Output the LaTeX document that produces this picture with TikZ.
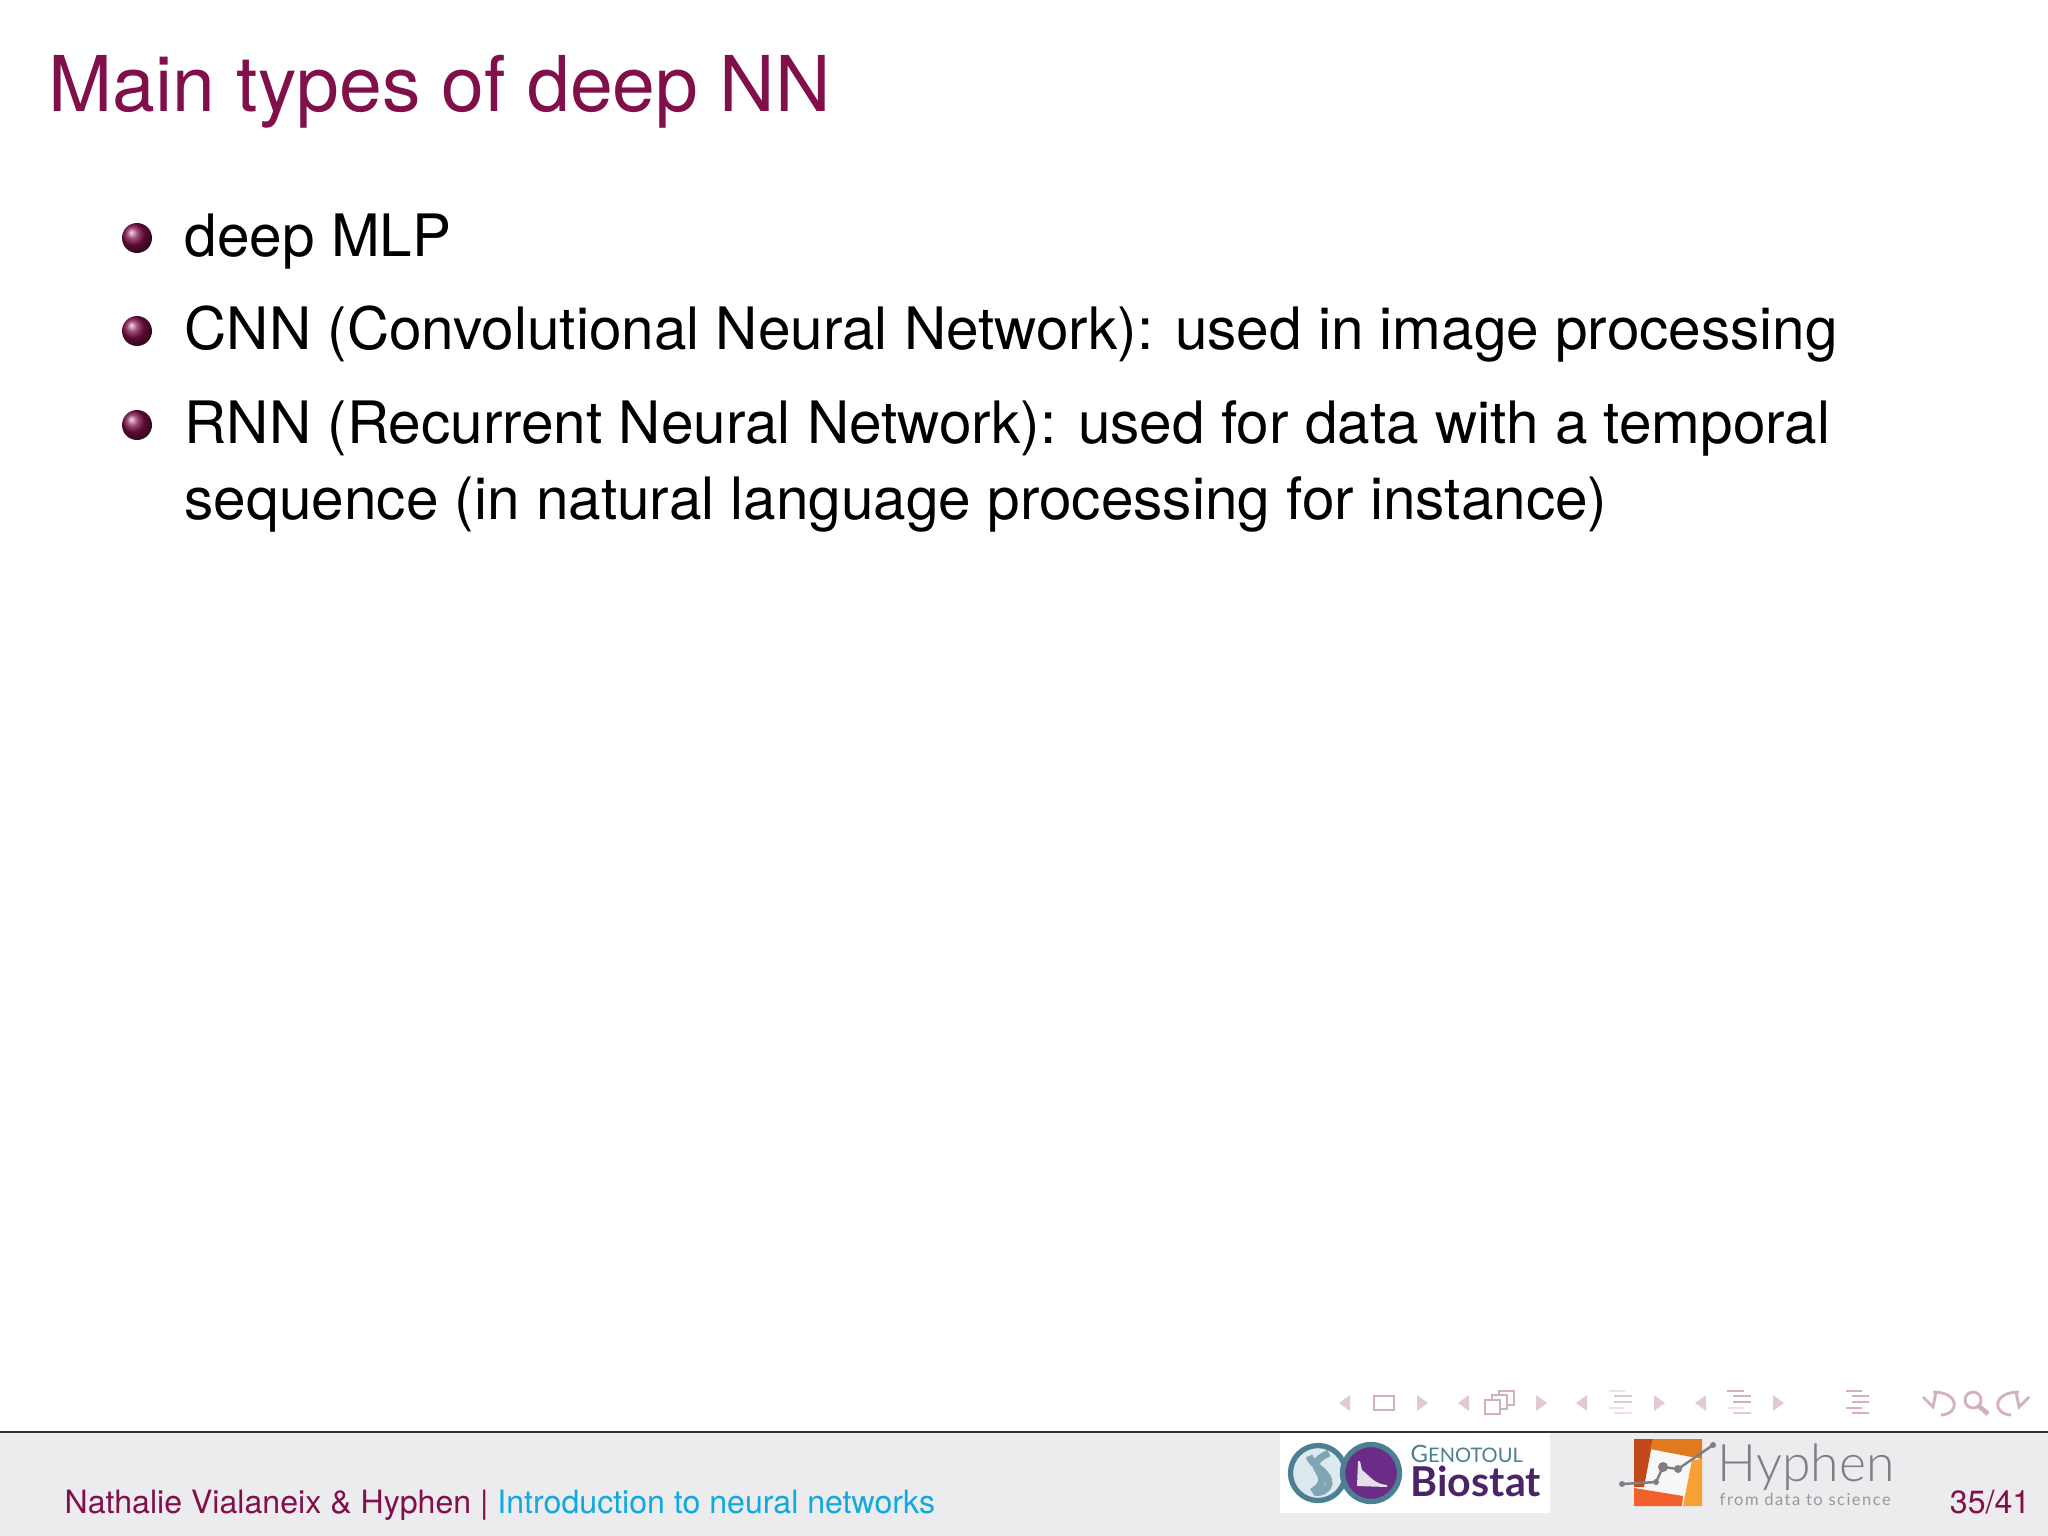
\documentclass[tikz,border=0pt]{standalone}
\usepackage{fontspec}
\setmainfont{TeX Gyre Heros}
\newfontfamily\logofont{Lato}
\newfontfamily\slogfont[LetterSpace=9]{Lato}
\newfontfamily\hyphfont{Lato Light}
\usetikzlibrary{positioning}
\definecolor{slidetitle}{HTML}{800F4A}
\definecolor{footgray}{HTML}{ECECEE}
\definecolor{navpink}{HTML}{D3B0C0}
\definecolor{navmid}{HTML}{E2CAD5}
\definecolor{navfaint}{HTML}{EEE2E7}
\definecolor{footblue}{HTML}{0FA9DF}
\definecolor{tealdark}{HTML}{4C7F92}
\definecolor{tealpale}{HTML}{DCE9EF}
\definecolor{biopurple}{HTML}{4B2468}
\definecolor{circpurple}{HTML}{6A2C86}
\definecolor{hyphgray}{HTML}{7E7F83}
\definecolor{hypha}{HTML}{BF4A17}
\definecolor{hyphb}{HTML}{E07A1F}
\definecolor{hyphc}{HTML}{F9A035}
\definecolor{hyphd}{HTML}{F2612A}
\tikzset{
  itemtext/.style={anchor=base west,inner sep=0pt,font=\fontsize{16.63}{20}\selectfont,text=black},
  foottext/.style={anchor=base west,inner sep=0pt,font=\fontsize{9.13}{12}\selectfont},
  navtri/.style={fill=#1,draw=none},
  navline/.style={draw=#1,line width=0.8pt}
}
\newcommand{\navleft}[2]{\fill[navtri=#2] (#1+11,1395) -- (#1,1403) -- (#1+11,1411) -- cycle;}
\newcommand{\navright}[2]{\fill[navtri=#2] (#1,1395) -- (#1+11,1403) -- (#1,1411) -- cycle;}
\begin{document}
\begin{tikzpicture}[x=0.01cm,y=-0.01cm]
\useasboundingbox (0,0) rectangle (2048,1536);
\fill[white] (0,0) rectangle (2048,1536);

% Title
\node[anchor=base west,inner sep=0pt,text=slidetitle,font=\fontsize{21.87}{26}\selectfont] (title) at (48,111) {Main types of deep NN};

% Bullet list
\foreach \y in {238,331,425} {
    \shade[ball color=slidetitle] (137,\y) circle[radius=15];
}
\node[itemtext] (mlp) at (184,256) {deep MLP};
\node[itemtext] (cnn) at (184,349) {CNN (Convolutional Neural Network): used in image processing};
\node[itemtext] (rnn) at (184,443) {RNN (Recurrent Neural Network): used for data with a temporal};
\node[itemtext] (seq) at (184,519) {sequence (in natural language processing for instance)};

% Navigation symbols
\navleft{1339}{navmid}
\draw[navline=navpink] (1374,1396) rectangle (1394,1410);
\navright{1417}{navmid}
\navleft{1458}{navmid}
\draw[navline=navpink,fill=white] (1499,1391) rectangle (1514,1405);
\draw[navline=navpink,fill=white] (1492,1395) rectangle (1507,1409);
\draw[navline=navpink,fill=white] (1485,1400) rectangle (1500,1414);
\navright{1536}{navmid}
\navleft{1576}{navmid}
\foreach \y/\a/\b/\c in {1391/1609/1625/navfaint,1396/1614/1632/navmid,1402/1614/1632/navmid,1408/1609/1625/navfaint,1413/1614/1632/navfaint} {
    \draw[navline=\c] (\a,\y) -- (\b,\y);
}
\navright{1654}{navmid}
\navleft{1695}{navmid}
\foreach \y/\a/\b/\c in {1391/1727/1744/navpink,1396/1733/1751/navpink,1402/1733/1751/navpink,1408/1727/1744/navfaint,1413/1733/1751/navmid} {
    \draw[navline=\c] (\a,\y) -- (\b,\y);
}
\navright{1773}{navmid}
\foreach \y/\a/\b in {1391/1846/1862,1396/1852/1869,1402/1852/1869,1408/1846/1862,1413/1852/1869} {
    \draw[navline=navpink] (\a,\y) -- (\b,\y);
}
% undo, search, redo
\draw[navline=navpink] (1933,1392) .. controls (1960,1392) and (1960,1414) .. (1941,1415);
\draw[navline=navpink] (1923,1397) -- (1933,1407) -- (1936,1392);
\draw[navline=navpink] (1973,1400) circle[radius=8];
\draw[navline=navpink,line width=1.3pt] (1979,1406) -- (1988,1414);
\draw[navline=navpink] (2019,1392) .. controls (1992,1392) and (1992,1414) .. (2011,1415);
\draw[navline=navpink] (2029,1397) -- (2019,1407) -- (2016,1392);

% Footer
\fill[footgray] (0,1432) rectangle (2048,1536);
\draw[black!80,line width=0.4pt] (0,1432) -- (2048,1432);
\node[foottext] (author) at (64,1513) {\textcolor{slidetitle}{Nathalie Vialaneix \& Hyphen | }\textcolor{footblue}{Introduction to neural networks}};
\node[foottext,anchor=base east,text=slidetitle] (page) at (2031,1513) {35/41};

% Biostat logo
\fill[white] (1280,1433) rectangle (1550,1513);
\draw[tealdark,line width=1.5pt,fill=tealpale] (1318,1473) circle[radius=27.5];
\draw[tealdark!70,line width=2pt] (1329,1453) .. controls (1296,1468) and (1340,1474) .. (1312,1492);
\draw[tealdark!70,line width=2pt] (1309,1456) .. controls (1312,1466) and (1330,1472) .. (1329,1484) .. controls (1328,1490) and (1320,1494) .. (1314,1492);
\draw[tealdark,line width=1.5pt,fill=circpurple] (1371,1473) circle[radius=28.5];
\fill[white!85!biopurple] (1357,1486) -- (1358,1461) -- (1360,1461) -- (1362,1470) .. controls (1370,1476) and (1374,1484) .. (1387,1485) -- (1387,1487) -- cycle;
\node[anchor=base west,inner sep=0pt,text=tealdark,font=\logofont\fontsize{6.8}{9}\selectfont] (genotoul) at (1410,1462) {G\fontsize{5.7}{9}\selectfont ENOTOUL};
\node[anchor=base west,inner sep=0pt,text=biopurple,font=\logofont\bfseries\fontsize{11.7}{15}\selectfont] (biostat) at (1410,1496) {Biostat};

% Hyphen logo
\fill[white!60!footgray] (1634,1439) rectangle (1702,1506);
\fill[hypha] (1634,1439) -- (1653,1439) -- (1644,1487) -- (1634,1487) -- cycle;
\fill[hyphb] (1653,1439) -- (1702,1439) -- (1702,1459) -- (1650,1449) -- cycle;
\fill[hyphc] (1702,1459) -- (1702,1506) -- (1683,1506) -- (1692,1460) -- cycle;
\fill[hyphd] (1634,1488) -- (1683,1496) -- (1682,1506) -- (1634,1506) -- cycle;
\coordinate (p1) at (1622,1484);
\coordinate (p2) at (1656,1482);
\coordinate (p3) at (1663,1467);
\coordinate (p4) at (1678,1469);
\coordinate (p5) at (1713,1445);
\draw[hyphgray,line width=0.7pt] (p1) -- (p2) -- (p3) -- (p4) -- (p5);
\foreach \p/\r in {p1/3,p2/3,p3/5,p4/4,p5/3} {
    \fill[hyphgray] (\p) circle[radius=\r];
}
\node[anchor=base west,inner sep=0pt,text=hyphgray,font=\hyphfont\fontsize{14.7}{16}\selectfont] (hyphen) at (1717,1481) {Hyphen};
\node[anchor=base west,inner sep=0pt,text=hyphgray!80,font=\slogfont\fontsize{4.7}{6}\selectfont] (slogan) at (1719,1505) {from data to science};
\end{tikzpicture}
\end{document}
